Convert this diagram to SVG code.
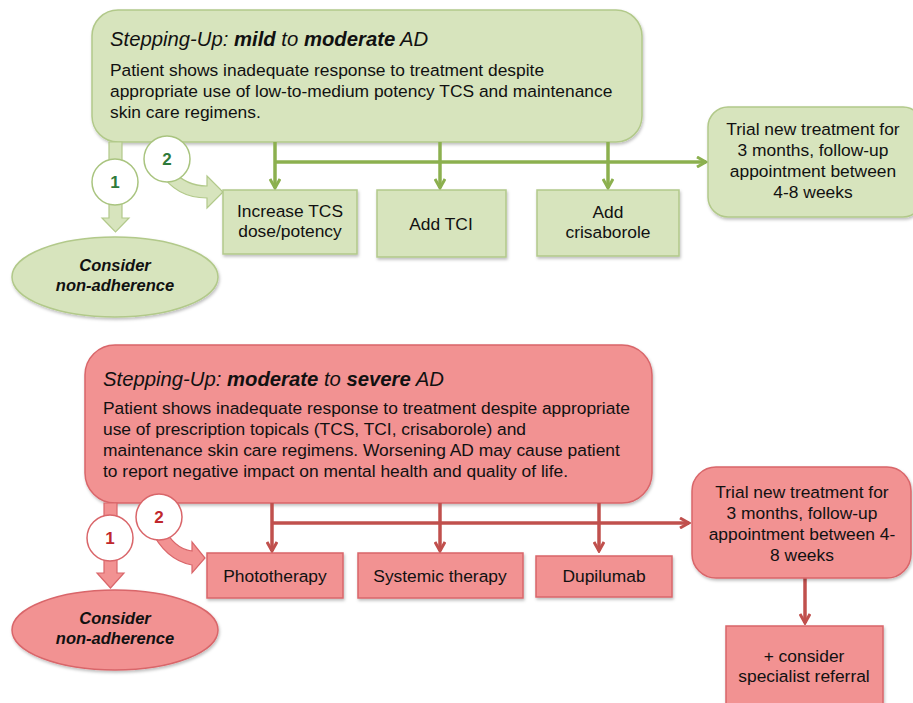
<svg xmlns="http://www.w3.org/2000/svg" width="913" height="703" viewBox="0 0 913 703">
<defs>
<filter id="sh" x="-10%" y="-10%" width="130%" height="130%"><feDropShadow dx="1" dy="2" stdDeviation="1.5" flood-color="#000" flood-opacity="0.25"/></filter>
<marker id="ag" viewBox="0 0 12 12" refX="10" refY="6" markerWidth="12" markerHeight="12" markerUnits="userSpaceOnUse" orient="auto"><path d="M1,1 L10,6 L1,11" fill="none" stroke="#8cb04f" stroke-width="3"/></marker>
<marker id="ar" viewBox="0 0 12 12" refX="10" refY="6" markerWidth="12" markerHeight="12" markerUnits="userSpaceOnUse" orient="auto"><path d="M1,1 L10,6 L1,11" fill="none" stroke="#c0504d" stroke-width="3"/></marker>
<style>
text{font-family:"Liberation Sans",Arial,sans-serif;fill:#111;}
.g{fill:#d7e4bd;stroke:#b2c98a;stroke-width:1.5;}
.r{fill:#f29292;stroke:#d9666a;stroke-width:1.5;}
.lg{fill:none;stroke:#8cb04f;stroke-width:3.5;}
.lr{fill:none;stroke:#c0504d;stroke-width:3.5;}
.t{font-size:20.3px;font-style:italic;}
.b{font-size:17.4px;}
.n{font-size:17.4px;text-anchor:middle;}
.e{font-size:16.5px;font-weight:bold;font-style:italic;text-anchor:middle;}
.cg{fill:#fff;stroke:#a9c47f;stroke-width:1.5;}
.cr{fill:#fff;stroke:#d9666a;stroke-width:1.5;}
.ng{font-size:17px;font-weight:bold;text-anchor:middle;fill:#2e7a3a;}
.nr{font-size:17px;font-weight:bold;text-anchor:middle;fill:#c0282d;}
</style>
</defs>
<rect width="913" height="703" fill="#fff"/>

<!-- GREEN SECTION -->
<g id="g-main"><rect class="g" x="92" y="10" width="550" height="132" rx="26" filter="url(#sh)"/>
<text class="t" x="110" y="46">Stepping-Up: <tspan font-weight="bold">mild</tspan> to <tspan font-weight="bold">moderate</tspan> AD</text>
<text class="b" x="110" y="76">Patient shows inadequate response to treatment despite</text>
<text class="b" x="110" y="97">appropriate use of low-to-medium potency TCS and maintenance</text>
<text class="b" x="110" y="118">skin care regimens.</text></g>

<g id="g-connectors">
<path class="lg" d="M275,142 V188" marker-end="url(#ag)"/>
<path class="lg" d="M440,142 V188" marker-end="url(#ag)"/>
<path class="lg" d="M608,142 V188" marker-end="url(#ag)"/>
<path class="lg" d="M275,162 H706" marker-end="url(#ag)"/>
<path d="M109,142 V218 H102 L115.5,232 L129,218 H122 V142 Z" fill="#d7e4bd" stroke="#b2c98a" stroke-width="1.2"/>
<path d="M160,172 Q176,198 207,198 V208 L223,192 L207,176 V186 Q186,186 172,170 Z" fill="#d7e4bd" stroke="#b2c98a" stroke-width="1.2"/>
</g>
<g id="g-c1"><circle class="cg" cx="115" cy="182" r="23"/><text class="ng" x="115" y="188">1</text></g>
<g id="g-c2"><circle class="cg" cx="167" cy="159" r="23"/><text class="ng" x="167" y="165">2</text></g>

<g id="g-nonadh"><ellipse class="g" cx="115" cy="277" rx="103" ry="40" filter="url(#sh)"/>
<text class="e" x="115" y="271">Consider</text><text class="e" x="115" y="291">non-adherence</text></g>

<g id="g-tcs"><rect class="g" x="223" y="190" width="134" height="64" filter="url(#sh)"/>
<text class="n" x="290" y="217">Increase TCS</text><text class="n" x="290" y="237">dose/potency</text></g>
<g id="g-tci"><rect class="g" x="377" y="190" width="129" height="67" filter="url(#sh)"/>
<text class="n" x="441" y="230">Add TCI</text></g>
<g id="g-cris"><rect class="g" x="537" y="190" width="142" height="66" filter="url(#sh)"/>
<text class="n" x="608" y="218">Add</text><text class="n" x="608" y="238">crisaborole</text></g>
<g id="g-trial"><rect class="g" x="708" y="107" width="215" height="110" rx="20" filter="url(#sh)"/>
<text class="n" x="813" y="135">Trial new treatment for</text>
<text class="n" x="813" y="156">3 months, follow-up</text>
<text class="n" x="813" y="177">appointment between</text>
<text class="n" x="813" y="198">4-8 weeks</text></g>

<!-- RED SECTION -->
<g id="r-main"><rect class="r" x="85" y="345" width="567" height="158" rx="30" filter="url(#sh)"/>
<text class="t" x="103" y="386">Stepping-Up: <tspan font-weight="bold">moderate</tspan> to <tspan font-weight="bold">severe</tspan> AD</text>
<text class="b" x="103" y="414">Patient shows inadequate response to treatment despite appropriate</text>
<text class="b" x="103" y="435">use of prescription topicals (TCS, TCI, crisaborole) and</text>
<text class="b" x="103" y="456">maintenance skin care regimens. Worsening AD may cause patient</text>
<text class="b" x="103" y="477">to report negative impact on mental health and quality of life.</text></g>

<g id="r-connectors">
<path class="lr" d="M272,503 V551" marker-end="url(#ar)"/>
<path class="lr" d="M440,503 V551" marker-end="url(#ar)"/>
<path class="lr" d="M599,503 V551" marker-end="url(#ar)"/>
<path class="lr" d="M272,523 H689" marker-end="url(#ar)"/>
<path class="lr" d="M805,578 V623" marker-end="url(#ar)"/>
<path d="M104,503 V573 H97 L110.5,588 L124,573 H117 V503 Z" fill="#f29292" stroke="#d9666a" stroke-width="1.2"/>
<path d="M150,528 Q165,560 192,565 V573 L205,558 L192,542 V551 Q174,549 163,526 Z" fill="#f29292" stroke="#d9666a" stroke-width="1.2"/>
</g>
<g id="r-c1"><circle class="cr" cx="110" cy="538" r="23"/><text class="nr" x="110" y="544">1</text></g>
<g id="r-c2"><circle class="cr" cx="159" cy="517" r="23"/><text class="nr" x="159" y="523">2</text></g>

<g id="r-nonadh"><ellipse class="r" cx="115" cy="630" rx="103" ry="40" filter="url(#sh)"/>
<text class="e" x="115" y="624">Consider</text><text class="e" x="115" y="644">non-adherence</text></g>

<g id="r-photo"><rect class="r" x="207" y="553" width="136" height="45" filter="url(#sh)"/>
<text class="n" x="275" y="582">Phototherapy</text></g>
<g id="r-sys"><rect class="r" x="358" y="553" width="165" height="45" filter="url(#sh)"/>
<text class="n" x="440" y="582">Systemic therapy</text></g>
<g id="r-dupi"><rect class="r" x="536" y="556" width="136" height="41" filter="url(#sh)"/>
<text class="n" x="604" y="582">Dupilumab</text></g>
<g id="r-trial"><rect class="r" x="692" y="467" width="219" height="111" rx="24" filter="url(#sh)"/>
<text class="n" x="802" y="498">Trial new treatment for</text>
<text class="n" x="802" y="519">3 months, follow-up</text>
<text class="n" x="802" y="540">appointment between 4-</text>
<text class="n" x="802" y="561">8 weeks</text></g>
<g id="r-ref"><rect class="r" x="726" y="626" width="157" height="90" filter="url(#sh)"/>
<text class="n" x="804" y="662">+ consider</text><text class="n" x="804" y="682">specialist referral</text></g>
</svg>
